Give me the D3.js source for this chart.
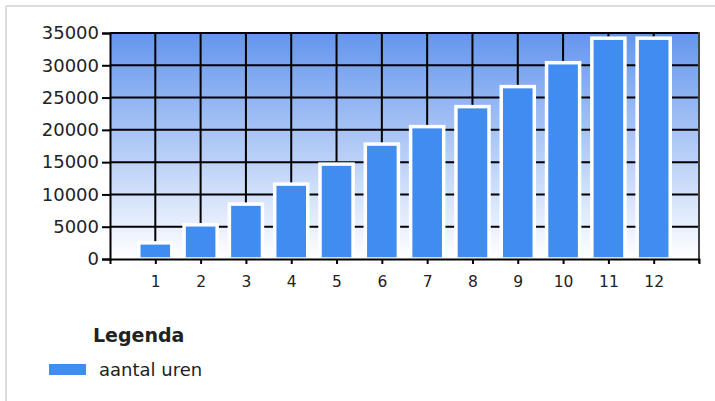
<!DOCTYPE html>
<html>
<head>
<meta charset="utf-8">
<script src="https://cdn.jsdelivr.net/npm/d3@7/dist/d3.min.js"></script>
<style>
  html, body { margin: 0; padding: 0; background: #fff; }
  svg { display: block; }
  text { font-family: "DejaVu Sans", Verdana, sans-serif; fill: #222; }
</style>
</head>
<body>
<svg id="chart" width="715" height="401"></svg>
<script>
const categories = [1, 2, 3, 4, 5, 6, 7, 8, 9, 10, 11, 12];
const values = [2500, 5300, 8500, 11600, 14700, 17800, 20500, 23600, 26700, 30400, 34200, 34200];
const yTicks = [0, 5000, 10000, 15000, 20000, 25000, 30000, 35000];
const seriesName = "aantal uren";
const legendTitle = "Legenda";

const svg = d3.select("#chart");
const plot = { left: 110, right: 699, top: 33, bottom: 259 };

const x = d3.scaleLinear().domain([0, categories.length + 1]).range([plot.left, plot.right]);
const y = d3.scaleLinear().domain([0, 35000]).range([plot.bottom, plot.top]);
const step = x(1) - x(0);
const barW = step * 0.73;

// outer frame
svg.append("line").attr("x1", 6).attr("y1", 6).attr("x2", 715).attr("y2", 6)
  .attr("stroke", "#dcdcdc").attr("stroke-width", 2);
svg.append("line").attr("x1", 6).attr("y1", 6).attr("x2", 6).attr("y2", 401)
  .attr("stroke", "#dcdcdc").attr("stroke-width", 2);

// gradient background
const defs = svg.append("defs");
const grad = defs.append("linearGradient").attr("id", "bg").attr("x1", 0).attr("y1", 0).attr("x2", 0).attr("y2", 1);
grad.append("stop").attr("offset", "0%").attr("stop-color", "#6495ED");
grad.append("stop").attr("offset", "100%").attr("stop-color", "#FFFFFF");

svg.append("rect")
  .attr("x", plot.left).attr("y", plot.top)
  .attr("width", plot.right - plot.left).attr("height", plot.bottom - plot.top)
  .attr("fill", "url(#bg)");

// horizontal grid
svg.append("g").selectAll("line").data(yTicks.filter(d => d > 0)).join("line")
  .attr("x1", plot.left).attr("x2", plot.right)
  .attr("y1", d => y(d)).attr("y2", d => y(d))
  .attr("stroke", "#000").attr("stroke-width", 2);

// vertical grid
svg.append("g").selectAll("line").data(categories).join("line")
  .attr("x1", d => x(d)).attr("x2", d => x(d))
  .attr("y1", plot.top).attr("y2", plot.bottom)
  .attr("stroke", "#000").attr("stroke-width", 2);

// bars
svg.append("g").selectAll("rect").data(categories).join("rect")
  .attr("x", d => x(d) - barW / 2)
  .attr("width", barW)
  .attr("y", (d, i) => y(values[i]))
  .attr("height", (d, i) => y(0) - y(values[i]))
  .attr("fill", "#418CF0")
  .attr("stroke", "#ffffff")
  .attr("stroke-width", 3.5);

// right border
svg.append("line").attr("x1", plot.right).attr("x2", plot.right)
  .attr("y1", plot.top - 1).attr("y2", plot.bottom + 4)
  .attr("stroke", "#444").attr("stroke-width", 2);

// y axis
const yAxis = d3.axisLeft(y).tickValues(yTicks).tickSize(8).tickPadding(3).tickFormat(d3.format("d"));
const gy = svg.append("g").attr("transform", `translate(${plot.left},0)`).call(yAxis);
gy.select(".domain").attr("stroke", "#000").attr("stroke-width", 2);
gy.selectAll(".tick line").attr("stroke", "#000").attr("stroke-width", 2);
gy.selectAll(".tick text").style("font-size", "18px").style("font-family", "DejaVu Sans, Verdana, sans-serif").attr("fill", "#222");

// x axis
const xAxis = d3.axisBottom(x).tickValues(categories).tickSize(5).tickPadding(12).tickFormat(d3.format("d"));
const gx = svg.append("g").attr("transform", `translate(0,${plot.bottom})`).call(xAxis);
gx.select(".domain").attr("stroke", "#000").attr("stroke-width", 2);
gx.selectAll(".tick line").attr("stroke", "#000").attr("stroke-width", 2);
gx.selectAll(".tick text").style("font-size", "15.5px").style("font-family", "DejaVu Sans, Verdana, sans-serif").attr("fill", "#222");

// legend
svg.append("text").attr("x", 93).attr("y", 341.5)
  .style("font-size", "19px").style("font-weight", "bold").attr("fill", "#111")
  .text(legendTitle);
svg.append("rect").attr("x", 49).attr("y", 364).attr("width", 37).attr("height", 11)
  .attr("fill", "#418CF0");
svg.append("text").attr("x", 99).attr("y", 375.5)
  .style("font-size", "18px").attr("fill", "#222")
  .text(seriesName);
</script>
</body>
</html>
